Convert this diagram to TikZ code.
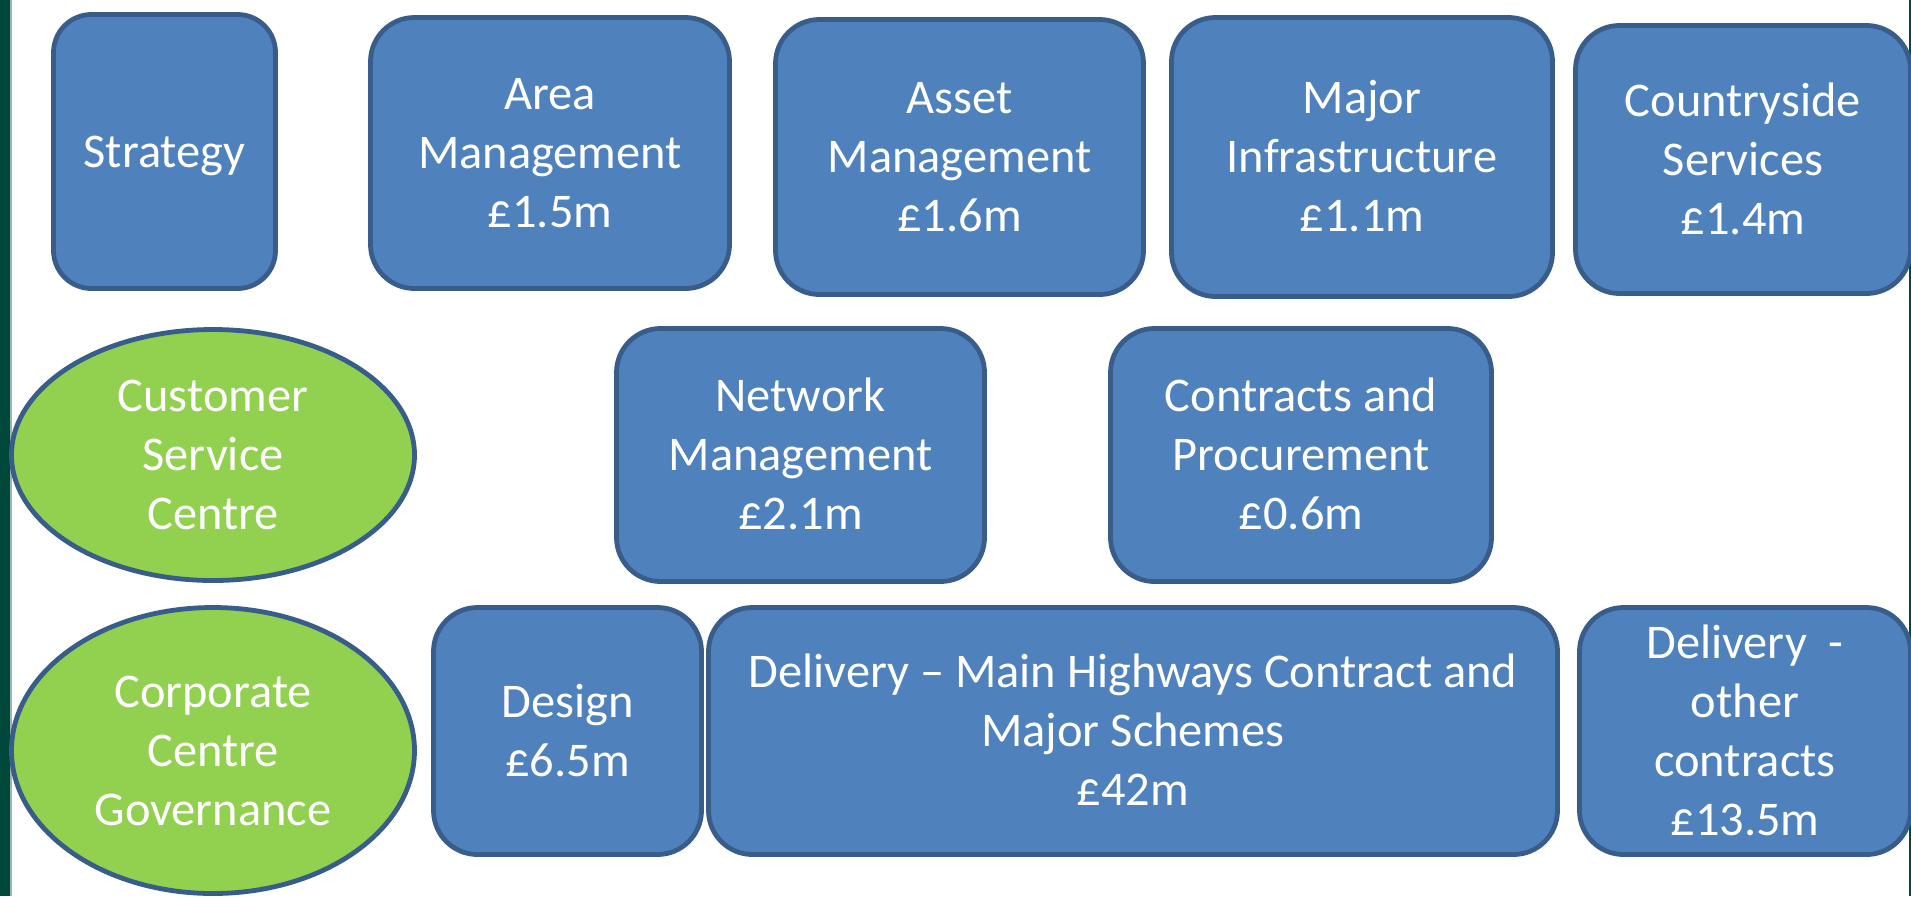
\documentclass[tikz,border=0pt]{standalone}
\usepackage{fontspec}
\setmainfont{Carlito}
\usetikzlibrary{shapes.geometric}
\definecolor{unitblue}{HTML}{4F81BD}
\definecolor{unitedge}{HTML}{385D8A}
\definecolor{centregreen}{HTML}{92D050}
\definecolor{framegreen}{HTML}{00483A}
\definecolor{framelight}{HTML}{9DB5AE}
% invisible strut so every label is centred on its cap height
\newcommand\labelstrut{\rule[-6.95pt]{0pt}{29.5pt}}
\begin{document}
\begin{tikzpicture}[x=0.5pt,y=-0.5pt,
  label font/.style={font=\fontsize{24.2pt}{29.5pt}\selectfont,
    execute at end node=\labelstrut},
  unit/.style={rectangle, rounded corners=22pt, draw=unitedge, line width=2.4pt,
    fill=unitblue, text=white, align=center, inner sep=0pt, label font},
  centre/.style={ellipse, draw=unitedge, line width=2.4pt,
    fill=centregreen, text=white, align=center, inner sep=0pt, label font}]
\useasboundingbox (0,0) rectangle (1911,896);
\fill[white] (0,0) rectangle (1911,896);
% frame strips at the page edges
\fill[framegreen] (0,0) rectangle (10,896);
\fill[framelight] (10,0) rectangle (11.5,896);
\fill[framegreen] (1909,0) rectangle (1911,896);

% top row
\node[unit, rounded corners=19pt, minimum width=111pt, minimum height=137pt]
  (strategy) at (164.5,151.5) {\labelstrut Strategy};
\node[unit, minimum width=179.5pt, minimum height=135.5pt]
  (area) at (550,153) {\labelstrut Area\\Management\\£1.5m};
\node[unit, minimum width=184pt, minimum height=137.5pt]
  (asset) at (959.5,157) {\labelstrut Asset\\Management\\£1.6m};
\node[unit, minimum width=190.5pt, minimum height=139.5pt]
  (major) at (1362,157) {\labelstrut Major\\Infrastructure\\£1.1m};
\node[unit, minimum width=167.5pt, minimum height=134pt]
  (country) at (1743,159.5) {\labelstrut Countryside\\Services\\£1.4m};

% middle row
\node[centre, minimum width=201.5pt, minimum height=125.5pt]
  (customer) at (213,455) {\labelstrut Customer\\Service\\Centre};
\node[unit, minimum width=184pt, minimum height=126.5pt]
  (network) at (800.5,455) {\labelstrut Network\\Management\\£2.1m};
\node[unit, minimum width=190.5pt, minimum height=126.5pt]
  (contracts) at (1301,455) {\labelstrut Contracts and\\Procurement\\£0.6m};

% bottom row
\node[centre, minimum width=201.5pt, minimum height=143pt]
  (corporate) at (213,750.5) {\labelstrut Corporate\\Centre\\Governance};
\node[unit, minimum width=134pt, minimum height=123.5pt]
  (design) at (567.5,731) {\labelstrut Design\\£6.5m};
\node[unit, minimum width=424.5pt, minimum height=123.5pt]
  (delmain) at (1133,731) {\labelstrut Delivery – Main Highways Contract and\\Major Schemes\\£42m};
\node[unit, minimum width=165.5pt, minimum height=123.5pt]
  (delother) at (1745,731) {\labelstrut Delivery\ \ -\\other\\contracts\\£13.5m};
\end{tikzpicture}
\end{document}
